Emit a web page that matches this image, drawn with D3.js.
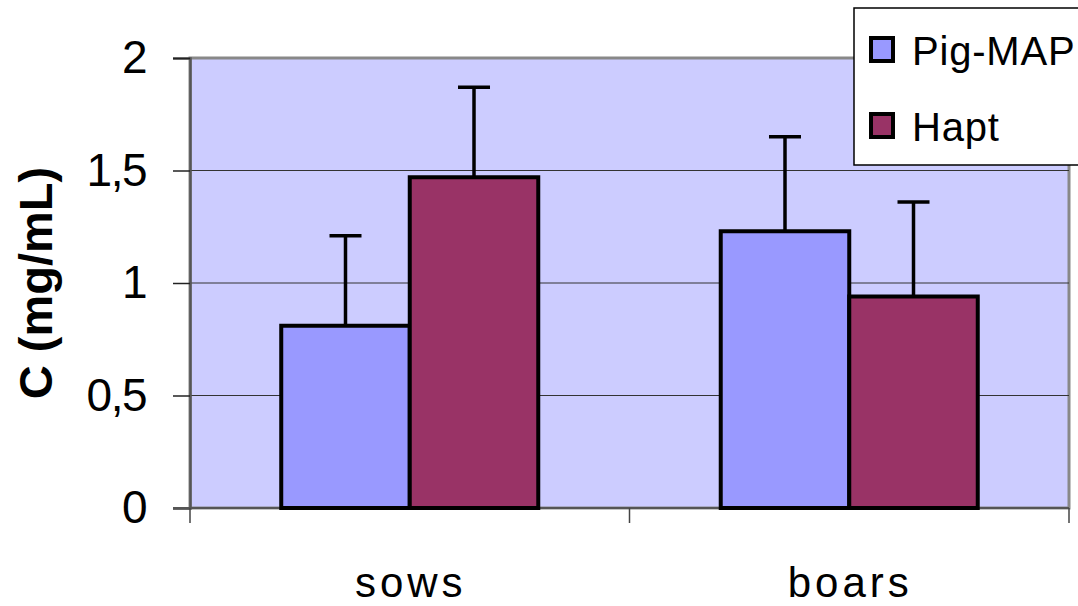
<!DOCTYPE html>
<html>
<head>
<meta charset="utf-8">
<script src="https://cdn.jsdelivr.net/npm/d3@7"></script>
<style>
  html, body { margin: 0; padding: 0; background: #ffffff; }
  svg { display: block; font-family: "Liberation Sans", Arial, sans-serif; }
</style>
</head>
<body>
<svg id="chart" width="1078" height="606"></svg>
<script>
// Serum concentrations (mg/mL) by sex, mean with upper error bar
const categories = ["sows", "boars"];
const seriesNames = ["Pig-MAP", "Hapt"];
const pigMapMean = [0.81, 1.23];
const pigMapErr = [0.40, 0.42];
const haptMean = [1.47, 0.94];
const haptErr = [0.40, 0.42];
const yTicks = [0, 0.5, 1, 1.5, 2];
const yTickLabels = ["0", "0,5", "1", "1,5", "2"];
const colors = { "Pig-MAP": "#9999ff", "Hapt": "#993366" };

const svg = d3.select("#chart");
const plot = { left: 190, right: 1069, top: 58, bottom: 508 };

const x = d3.scaleBand().domain(categories)
  .range([plot.left, plot.right]).paddingInner(0).paddingOuter(0);
const inner = d3.scaleBand().domain(seriesNames)
  .range([0, x.bandwidth()]).paddingInner(0).paddingOuter(0.71);
const y = d3.scaleLinear().domain([0, 2]).range([plot.bottom, plot.top]);

// plot background with grey frame
svg.append("rect")
  .attr("x", plot.left).attr("y", plot.top)
  .attr("width", plot.right - plot.left).attr("height", plot.bottom - plot.top)
  .attr("fill", "#ccccff").attr("stroke", "#888888").attr("stroke-width", 3);

// horizontal gridlines
svg.append("g").selectAll("line").data(yTicks.filter(d => d > 0 && d < 2)).join("line")
  .attr("x1", plot.left).attr("x2", plot.right)
  .attr("y1", d => y(d)).attr("y2", d => y(d))
  .attr("stroke", "#333333").attr("stroke-width", 1);

// y axis
const yAxis = d3.axisLeft(y).tickValues(yTicks)
  .tickFormat((d, i) => yTickLabels[i]).tickSize(17).tickPadding(27);
const gy = svg.append("g").attr("transform", `translate(${plot.left},0)`).call(yAxis);
gy.select(".domain").attr("stroke", "#555555").attr("stroke-width", 2.5);
gy.selectAll(".tick line").attr("stroke", "#222222").attr("stroke-width", 1.5);
gy.selectAll(".tick text").attr("font-size", 46).attr("fill", "#000")
  .attr("letter-spacing", "-1.5px")
  .attr("font-family", "Liberation Sans, Arial, sans-serif");

// x axis
const gx = svg.append("g").attr("transform", `translate(0,${plot.bottom})`);
gx.append("line").attr("x1", plot.left - 17).attr("x2", plot.right)
  .attr("y1", 0).attr("y2", 0).attr("stroke", "#555555").attr("stroke-width", 2);
const xTickPos = [plot.left, plot.left + x.bandwidth(), plot.right];
gx.selectAll("line.tick").data(xTickPos).join("line").attr("class", "tick")
  .attr("x1", d => d).attr("x2", d => d).attr("y1", 0).attr("y2", 15)
  .attr("stroke", "#444444").attr("stroke-width", 1.5);
gx.selectAll("text").data(categories).join("text")
  .attr("x", d => x(d) + x.bandwidth() / 2 + 1).attr("y", 89)
  .attr("text-anchor", "middle").attr("font-size", 42)
  .attr("letter-spacing", "4px").text(d => d);

// bars + error bars
const rows = [];
categories.forEach((c, i) => {
  rows.push({ cat: c, s: "Pig-MAP", v: pigMapMean[i], e: pigMapErr[i] });
  rows.push({ cat: c, s: "Hapt", v: haptMean[i], e: haptErr[i] });
});

const g = svg.append("g");
g.selectAll("line.err").data(rows).join("line").attr("class", "err")
  .attr("x1", d => x(d.cat) + inner(d.s) + inner.bandwidth() / 2)
  .attr("x2", d => x(d.cat) + inner(d.s) + inner.bandwidth() / 2)
  .attr("y1", d => y(d.v)).attr("y2", d => y(d.v + d.e))
  .attr("stroke", "#000").attr("stroke-width", 3.5);
g.selectAll("line.cap").data(rows).join("line").attr("class", "cap")
  .attr("x1", d => x(d.cat) + inner(d.s) + inner.bandwidth() / 2 - 16)
  .attr("x2", d => x(d.cat) + inner(d.s) + inner.bandwidth() / 2 + 16)
  .attr("y1", d => y(d.v + d.e)).attr("y2", d => y(d.v + d.e))
  .attr("stroke", "#000").attr("stroke-width", 3.5);
g.selectAll("rect").data(rows).join("rect")
  .attr("x", d => x(d.cat) + inner(d.s))
  .attr("y", d => y(d.v))
  .attr("width", inner.bandwidth())
  .attr("height", d => y(0) - y(d.v))
  .attr("fill", d => colors[d.s])
  .attr("stroke", "#000").attr("stroke-width", 4);

// y axis title
svg.append("text")
  .attr("transform", "translate(52,283) rotate(-90)")
  .attr("text-anchor", "middle").attr("font-size", 47).attr("font-weight", "bold")
  .text("C (mg/mL)");

// legend
const lg = svg.append("g");
lg.append("rect").attr("x", 854).attr("y", 8).attr("width", 260).attr("height", 157)
  .attr("fill", "#ffffff").attr("stroke", "#000").attr("stroke-width", 1.5);
seriesNames.forEach((s, i) => {
  const top = 37 + i * 76;
  lg.append("rect").attr("x", 871).attr("y", top + 1).attr("width", 22).attr("height", 23)
    .attr("fill", colors[s]).attr("stroke", "#000").attr("stroke-width", 4);
  lg.append("text").attr("x", 912).attr("y", top + 28)
    .attr("font-size", 40).attr("letter-spacing", "0.8px").text(s);
});
</script>
</body>
</html>
